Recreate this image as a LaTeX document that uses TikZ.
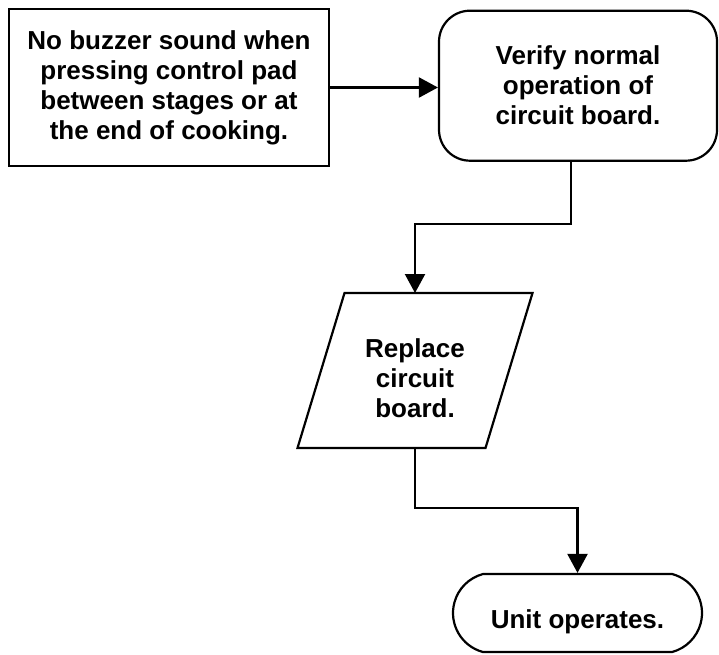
\documentclass[tikz,border=0pt]{standalone}
\usepackage{fontspec}
\setmainfont{Liberation Sans}
\usetikzlibrary{arrows.meta}
\usetikzlibrary{positioning}
\usetikzlibrary{shapes.misc}

\begin{document}
\begin{tikzpicture}[x=1pt,y=1pt,line width=2.2pt,
	flowtext/.style={font=\fontsize{26}{30}\selectfont\bfseries,align=center},
	process/.style={draw,flowtext,inner sep=0pt},
	terminal/.style={draw,rounded rectangle,rounded rectangle arc length=150,inner sep=0pt},
	flow/.style={-{Triangle[length=19pt,width=20pt]}}]
		\useasboundingbox (0,0) rectangle (719,-654);
		\node[process,minimum width=320,minimum height=157] (problem) at (169,-87.5)
		{No buzzer sound when\\pressing control pad\\between stages or at\\the end of cooking.};
		\node[process,rounded corners=31pt,minimum width=278,minimum height=150] (verify) at (578,-85.7)
		{Verify normal\\operation of\\circuit board.};
		\node[minimum width=188,minimum height=155,outer sep=0pt] (replace) at (415,-370.5) {};
		\draw ([xshift=-23.5pt]replace.south west) -- ([xshift=23.5pt]replace.north west)
		-- ([xshift=23.5pt]replace.north east) -- ([xshift=-23.5pt]replace.south east) -- cycle;
		\node[flowtext] (replacetext) at ([yshift=-8pt]replace.center) {Replace\\circuit\\board.};
		\node[terminal,minimum width=249,minimum height=78] (unit) at (577.5,-613) {};
		\node[flowtext] (unittext) at ([yshift=-9pt]unit.center) {Unit operates.};
		\coordinate (knee1) at (571,-224);
		\coordinate (knee2) at (415,-508);
		\draw[flow] (problem.east) -- (problem.east -| verify.west);
		\draw[flow] (verify.south -| knee1) -- (knee1) -| (replace.north);
		\draw[flow] (replace.south) -- (knee2) -| (unit.north);
\end{tikzpicture}
\end{document}
